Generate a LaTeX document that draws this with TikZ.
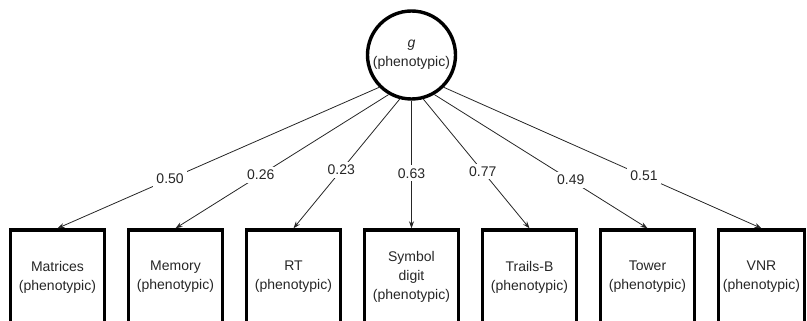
\documentclass[tikz,border=0pt]{standalone}
\usepackage{fontspec}
\setmainfont{Liberation Sans}
\usetikzlibrary{arrows.meta}
\definecolor{ink}{HTML}{262626}
\tikzset{
  every node/.style={font=\fontsize{14}{19}\selectfont, text=ink},
  latent/.style={circle, draw=black, line width=3.4pt, minimum size=88pt, inner sep=0pt, align=center},
  obsbox/.style={rectangle, draw=black, line width=3.4pt, minimum width=93.5pt, minimum height=94pt, inner sep=0pt, align=center},
  conn/.style={draw=ink, line width=0.8pt, -{Stealth[length=7pt,width=5pt]}},
  lab/.style={fill=white, inner sep=3pt}
}
\begin{document}
\begin{tikzpicture}[x=1pt,y=-1pt]
\useasboundingbox (0,0) rectangle (807,321);
\node[latent] (g) at (411.5,55) {\textit{g}\\(phenotypic)};
\node[obsbox] (mat) at (57.5,277) {Matrices\\(phenotypic)};
\node[obsbox] (mem) at (175.5,277) {Memory\\(phenotypic)};
\node[obsbox] (rt) at (293.5,277) {RT\\(phenotypic)};
\node[obsbox] (sym) at (411.5,277) {Symbol\\digit\\(phenotypic)};
\node[obsbox] (trl) at (529.5,277) {Trails-B\\(phenotypic)};
\node[obsbox] (tow) at (647.5,277) {Tower\\(phenotypic)};
\node[obsbox, minimum width=86pt] (vnr) at (761.5,277) {VNR\\(phenotypic)};
\draw[conn] (g.225) -- node[lab, pos=0.65] {0.50} (mat.north);
\draw[conn] (g.240) -- node[lab, pos=0.60] {0.26} (mem.north);
\draw[conn] (g.255) -- node[lab, pos=0.55] {0.23} (rt.north);
\draw[conn] (g.270) -- node[lab, pos=0.57] {0.63} (sym.north);
\draw[conn] (g.285) -- node[lab, pos=0.56] {0.77} (trl.north);
\draw[conn] (g.300) -- node[lab, pos=0.64] {0.49} (tow.north);
\draw[conn] (g.315) -- node[lab, pos=0.63] {0.51} (vnr.north);
\end{tikzpicture}
\end{document}
